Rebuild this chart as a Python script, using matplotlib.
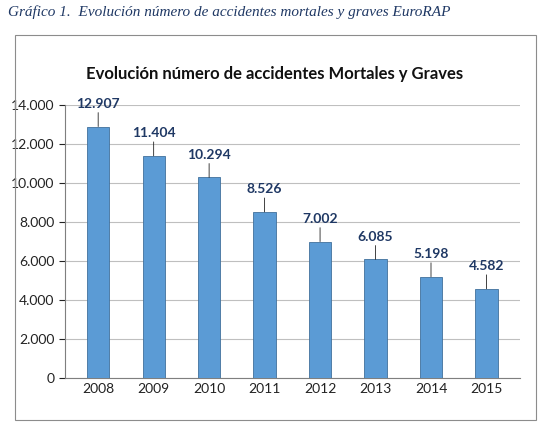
import matplotlib.pyplot as plt
from matplotlib.patches import Rectangle
from matplotlib.ticker import FuncFormatter

plt.rcParams['font.family'] = ['Lato', 'DejaVu Sans']

# Datos
anios = ['2008', '2009', '2010', '2011', '2012', '2013', '2014', '2015']
accidentes = [12907, 11404, 10294, 8526, 7002, 6085, 5198, 4582]


def miles(v, pos=None):
    return f"{int(v):,}".replace(",", ".")


fig = plt.figure(figsize=(5.5, 4.33), dpi=100)

# Leyenda superior y marco del gráfico
fig.text(0.015, 0.972, "Gráfico 1.  Evolución número de accidentes mortales y graves EuroRAP",
         fontsize=11, style='italic', family='Liberation Serif', color='#1F3864', va='center')
fig.add_artist(Rectangle((0.027, 0.03), 0.947, 0.89, transform=fig.transFigure,
                         fill=False, edgecolor='#8c8c8c', linewidth=0.8))
fig.text(0.5, 0.828, "Evolución número de accidentes Mortales y Graves",
         fontsize=12, weight='bold', ha='center', va='center', color='#111111')

ax = fig.add_axes([0.118, 0.127, 0.827, 0.63])
x = range(len(anios))
ax.bar(x, accidentes, width=0.4, color='#5B9BD5', edgecolor='#41719C', linewidth=0.6, zorder=3)

ax.set_ylim(0, 14000)
ax.set_yticks(range(0, 14001, 2000))
ax.yaxis.set_major_formatter(FuncFormatter(miles))
ax.set_xticks(list(x))
ax.set_xticklabels(anios)
ax.set_xlim(-0.6, len(anios) - 0.4)
ax.tick_params(labelsize=10, length=0, colors='#222222')
ax.tick_params(axis='y', length=4)
ax.grid(axis='y', color='#bfbfbf', linewidth=0.8, zorder=0)
for s in ['top', 'right']:
    ax.spines[s].set_visible(False)
ax.spines['left'].set_color('#7f7f7f')
ax.spines['bottom'].set_color('#7f7f7f')

# Etiquetas de datos con línea guía
for i, v in enumerate(accidentes):
    ax.annotate(miles(v), xy=(i, v), xytext=(0, 12), textcoords='offset points',
                ha='center', va='bottom', fontsize=10, weight='bold', color='#1F3864',
                arrowprops=dict(arrowstyle='-', color='#222222', lw=0.6, shrinkA=0, shrinkB=0))

fig.savefig('out.png', dpi=100)
